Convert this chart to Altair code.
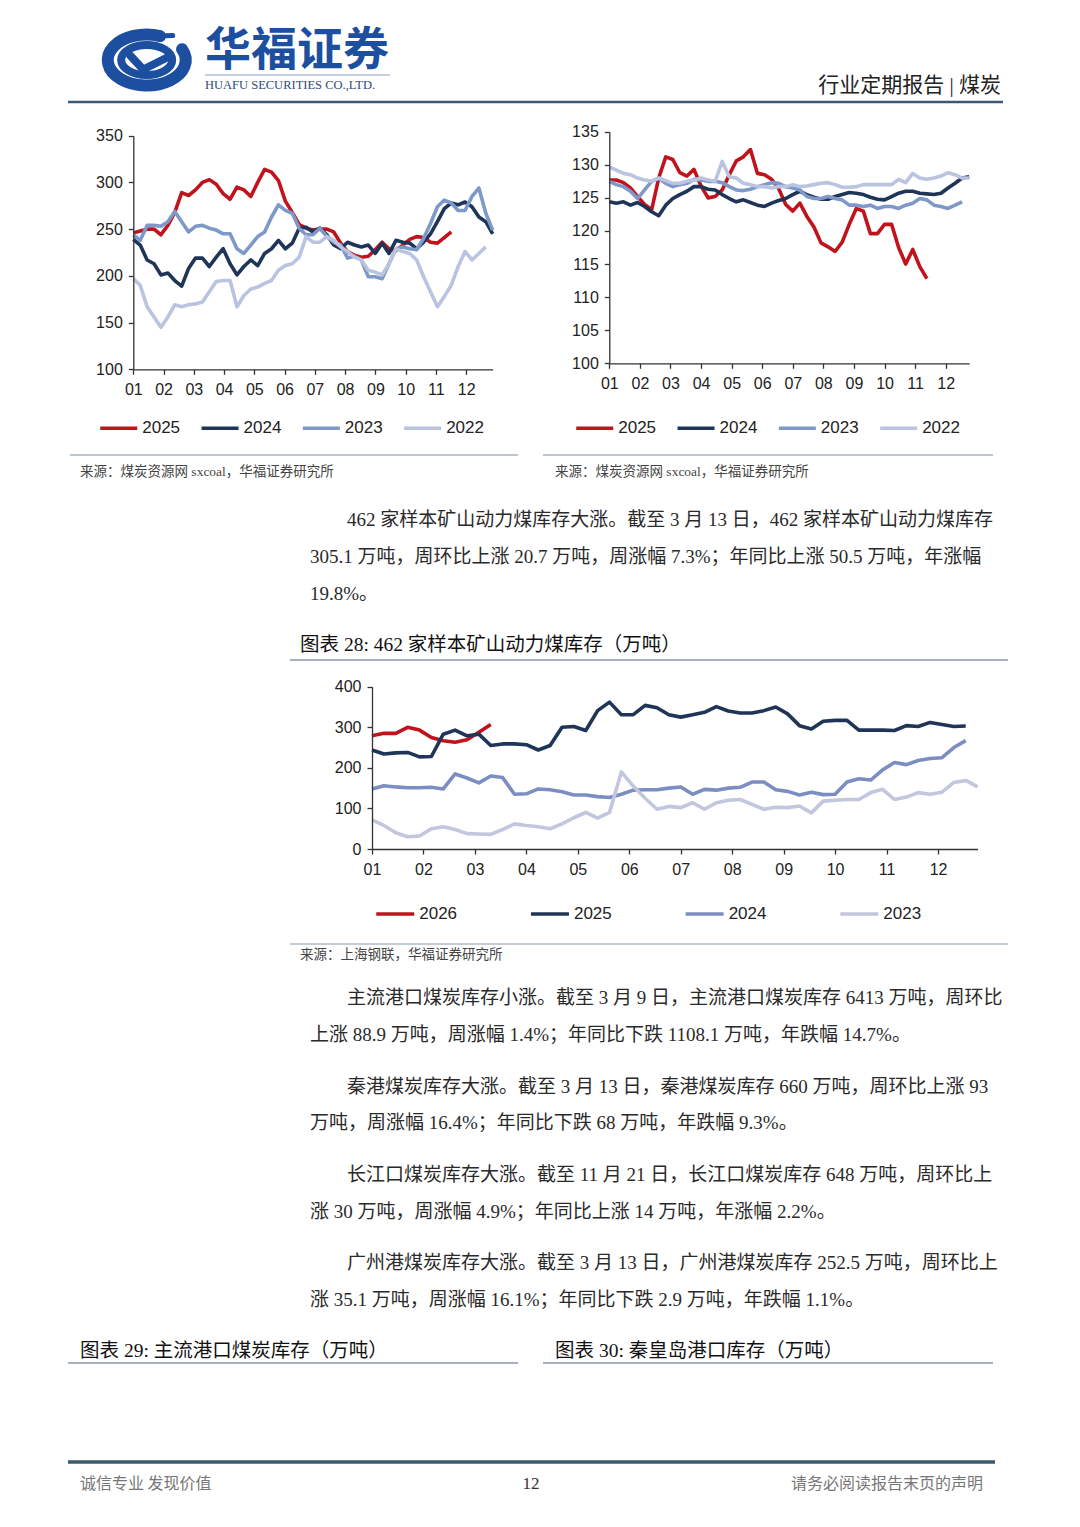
import json
import pandas as pd
import altair as alt

W, H = 1064, 1511
M = 8  # page margin

MONTH_LABELS = ["01", "02", "03", "04", "05", "06", "07", "08", "09", "10", "11", "12"]

# ---------------- Chart 1 (left top) ----------------
C1_NAMES = ["2025", "2024", "2023", "2022"]
C1_COLORS = ["#c0131b", "#1f3557", "#7d98c9", "#bac3df"]
C1_YTICKS = [100, 150, 200, 250, 300, 350]
C1_2025 = [246, 248, 250, 250, 244, 254, 268, 289, 286, 292, 300, 303, 298, 288, 282, 295, 292, 285, 300,
           314, 311, 302, 280, 268, 255, 251, 249, 250, 250, 247, 235, 226, 222, 220, 221, 228, 236, 229,
           227, 233, 239, 242, 241, 236, 235, 241, 247]
C1_2024 = [239, 233, 217, 213, 201, 203, 195, 189, 208, 219, 219, 210, 220, 229, 213, 201, 210, 217, 211,
           224, 229, 238, 229, 235, 251, 252, 247, 251, 244, 233, 229, 236, 233, 231, 233, 224, 235, 224,
           238, 236, 235, 229, 236, 245, 258, 272, 278, 276, 279, 274, 263, 258, 245]
C1_2023 = [244, 238, 254, 254, 253, 258, 269, 258, 247, 253, 254, 251, 249, 245, 245, 229, 224, 233, 242,
           247, 263, 276, 270, 267, 251, 244, 244, 251, 242, 236, 233, 219, 221, 217, 199, 199, 197, 213,
           229, 231, 229, 228, 240, 256, 274, 281, 278, 270, 270, 285, 294, 267, 249]
C1_2022 = [197, 190, 167, 156, 145, 156, 169, 167, 169, 170, 172, 183, 194, 195, 195, 167, 179, 186, 188,
           192, 195, 206, 211, 213, 220, 242, 236, 236, 242, 238, 231, 226, 220, 217, 206, 204, 201, 213,
           229, 226, 224, 217, 199, 183, 167, 178, 190, 210, 226, 217, 224, 231]

# ---------------- Chart 2 (right top) ----------------
C2_NAMES = ["2025", "2024", "2023", "2022"]
C2_COLORS = ["#c0131b", "#1f3557", "#7d98c9", "#bac3df"]
C2_YTICKS = [100, 105, 110, 115, 120, 125, 130, 135]
C2_2025 = [127.7, 127.7, 127.3, 126.5, 125.2, 124.0, 123.2, 128.0, 131.2, 130.8, 128.8, 128.3, 129.3,
           126.8, 125.0, 125.2, 126.2, 128.5, 130.6, 131.2, 132.3, 128.7, 128.5, 127.8, 126.4, 124.0,
           123.0, 124.2, 122.2, 120.6, 118.2, 117.6, 116.9, 118.3, 121.0, 123.4, 123.0, 119.6, 119.6,
           121.0, 121.0, 117.5, 115.0, 117.2, 114.6, 112.8]
C2_2024 = [124.4, 124.2, 124.4, 123.9, 124.3, 123.7, 122.9, 122.3, 123.9, 124.9, 125.5, 126.0, 126.7,
           126.7, 126.3, 126.2, 125.5, 124.9, 124.4, 124.7, 124.3, 123.9, 123.7, 124.2, 124.6, 124.9,
           125.5, 126.0, 125.5, 125.1, 124.8, 124.8, 125.2, 125.5, 125.8, 125.7, 125.5, 125.1, 124.8,
           124.7, 125.2, 125.7, 126.0, 126.0, 125.7, 125.6, 125.5, 125.7, 126.5, 127.2, 128.0, 128.2]
C2_2023 = [127.5, 127.0, 126.7, 126.0, 124.9, 126.2, 127.5, 128.0, 127.2, 126.7, 127.0, 127.2, 127.8,
           127.7, 127.5, 127.5, 127.3, 126.7, 126.2, 126.1, 126.3, 126.7, 127.0, 127.3, 127.2, 126.7,
           126.5, 126.2, 125.2, 124.9, 124.9, 125.2, 124.9, 124.7, 123.9, 123.9, 123.7, 123.9, 123.4,
           123.7, 123.7, 123.4, 123.9, 124.2, 124.9, 124.7, 123.9, 123.7, 123.4, 123.9, 124.4]
C2_2022 = [129.7, 129.2, 128.7, 128.5, 128.0, 127.7, 127.5, 128.0, 127.6, 127.2, 127.2, 127.5, 127.7,
           128.0, 127.7, 127.5, 130.5, 128.2, 128.0, 127.2, 127.0, 126.7, 126.7, 126.5, 126.7, 126.7,
           127.0, 126.7, 126.8, 127.0, 127.2, 127.3, 127.0, 126.6, 126.6, 126.7, 127.0, 127.0, 127.0,
           127.0, 127.0, 127.8, 127.3, 128.7, 128.0, 127.8, 128.0, 128.3, 128.8, 128.5, 128.0, 128.0]

# ---------------- Chart 3 (middle) ----------------
C3_NAMES = ["2026", "2025", "2024", "2023"]
C3_COLORS = ["#c0131b", "#1f3557", "#7b8ec2", "#c2c6de"]
C3_YTICKS = [0, 100, 200, 300, 400]
C3_2026 = [279, 285, 285, 300, 293, 275, 267, 263, 269, 288, 307]
C3_2025 = [244, 234, 237, 238, 227, 228, 283, 293, 279, 283, 255, 259, 259, 257, 244, 255, 300, 302, 292,
           341, 362, 331, 331, 354, 348, 331, 325, 331, 337, 351, 340, 335, 335, 341, 350, 333, 304, 296,
           315, 317, 317, 293, 293, 293, 292, 304, 302, 312, 307, 302, 303]
C3_2024 = [148, 156, 153, 151, 151, 152, 148, 185, 175, 163, 180, 176, 135, 136, 148, 146, 141, 133, 133,
           129, 127, 135, 145, 146, 146, 150, 153, 135, 147, 145, 150, 152, 165, 165, 146, 142, 133, 140,
           134, 135, 165, 173, 170, 195, 213, 208, 218, 223, 225, 250, 267]
C3_2023 = [72, 58, 40, 30, 32, 50, 55, 48, 38, 37, 36, 48, 62, 58, 55, 50, 62, 77, 90, 76, 90, 190, 155,
           125, 98, 105, 102, 114, 98, 114, 120, 122, 110, 98, 103, 102, 106, 89, 118, 120, 122, 122, 139,
           147, 122, 128, 139, 135, 140, 164, 169, 153]

# ---------------- Text content ----------------
PARA_LINES = [
    (347, 520, "462 家样本矿山动力煤库存大涨。截至 3 月 13 日，462 家样本矿山动力煤库存"),
    (310, 557, "305.1 万吨，周环比上涨 20.7 万吨，周涨幅 7.3%；年同比上涨 50.5 万吨，年涨幅"),
    (310, 594, "19.8%。"),
    (347, 998, "主流港口煤炭库存小涨。截至 3 月 9 日，主流港口煤炭库存 6413 万吨，周环比"),
    (310, 1035, "上涨 88.9 万吨，周涨幅 1.4%；年同比下跌 1108.1 万吨，年跌幅 14.7%。"),
    (347, 1087, "秦港煤炭库存大涨。截至 3 月 13 日，秦港煤炭库存 660 万吨，周环比上涨 93"),
    (310, 1123, "万吨，周涨幅 16.4%；年同比下跌 68 万吨，年跌幅 9.3%。"),
    (347, 1175, "长江口煤炭库存大涨。截至 11 月 21 日，长江口煤炭库存 648 万吨，周环比上"),
    (310, 1212, "涨 30 万吨，周涨幅 4.9%；年同比上涨 14 万吨，年涨幅 2.2%。"),
    (347, 1263, "广州港煤炭库存大涨。截至 3 月 13 日，广州港煤炭库存 252.5 万吨，周环比上"),
    (310, 1300, "涨 35.1 万吨，周涨幅 16.1%；年同比下跌 2.9 万吨，年跌幅 1.1%。"),
]
FIG_TITLES = [
    (300, 645, "图表 28:  462 家样本矿山动力煤库存（万吨）"),
    (80, 1351, "图表 29:  主流港口煤炭库存（万吨）"),
    (555, 1351, "图表 30:  秦皇岛港口库存（万吨）"),
]
SOURCES = [
    (80, 472, "来源：煤炭资源网 sxcoal，华福证券研究所"),
    (555, 472, "来源：煤炭资源网 sxcoal，华福证券研究所"),
    (300, 955, "来源：上海钢联，华福证券研究所"),
]

AXIS_FONT = "Liberation Sans, Arial, sans-serif"
BODY_FONT = "Liberation Serif, Noto Sans CJK SC"
CJK_FONT = "Noto Sans CJK SC"
LOGO_BLUE = "#1d4fa0"

BASE = pd.DataFrame({"k": [0]})


def long_df(names, series):
    rows = []
    for n, s in zip(names, series):
        for i, v in enumerate(s):
            rows.append({"week": i, "value": v, "series": n})
    return pd.DataFrame(rows)


def line_chart(df, names, colors, xdom, xrng, ydom, yrng, yticks, wpm, legx, legy, colpad, symsize):
    month_vals = [i * wpm for i in range(12)]
    label_expr = f"{json.dumps(MONTH_LABELS)}[round(datum.value / {wpm})]"
    common = dict(domainColor="#333", domainWidth=1.3, tickColor="#333", tickWidth=1.3, tickSize=5,
                  labelFont=AXIS_FONT, labelFontSize=16, labelColor="#222", grid=False, title=None,
                  labelFlush=False, labelOverlap=False, zindex=1)
    return alt.Chart(df).mark_line(strokeWidth=3.6, strokeJoin="round").encode(
        x=alt.X("week:Q",
                scale=alt.Scale(domain=xdom, range=xrng, nice=False, zero=False),
                axis=alt.Axis(orient="bottom", values=month_vals, labelExpr=label_expr,
                              offset=yrng[0] - H, labelPadding=7, **common)),
        y=alt.Y("value:Q",
                scale=alt.Scale(domain=ydom, range=yrng, nice=False, zero=False),
                axis=alt.Axis(orient="left", values=yticks, offset=-xrng[0], labelPadding=6, **common)),
        color=alt.Color("series:N", scale=alt.Scale(domain=names, range=colors),
                        legend=alt.Legend(orient="none", legendX=legx, legendY=legy, direction="horizontal",
                                          title=None, symbolType="stroke", symbolStrokeWidth=3.6,
                                          symbolSize=symsize, labelFontSize=17, labelFont=AXIS_FONT,
                                          labelColor="#222", labelOffset=3, columnPadding=colpad,
                                          padding=0, labelLimit=0, zindex=1)),
    )


def txt(s, x, y, size, color="#222", font=BODY_FONT, align="left", weight="normal"):
    return alt.Chart(BASE).mark_text(text=s, align=align, baseline="middle", fontSize=size, font=font,
                                     color=color, fontWeight=weight).encode(
        x=alt.value(x - M), y=alt.value(y - M))


def hrule(x1, x2, y, color, width):
    return alt.Chart(BASE).mark_rule(color=color, strokeWidth=width).encode(
        x=alt.value(x1 - M), x2=alt.value(x2 - M), y=alt.value(y - M))


def logo_part(path, **kw):
    return alt.Chart(BASE).mark_point(shape=path, size=10000, opacity=1, filled=False,
                                      strokeCap="round", strokeJoin="round", **kw).encode(
        x=alt.value(146.7 - M), y=alt.value(60 - M))


layers = []

# white page background (covers the faint frame at the canvas edge)
layers.append(alt.Chart(BASE).mark_rect(color="white", stroke="white", strokeWidth=4).encode(
    x=alt.value(-4), x2=alt.value(W + 4), y=alt.value(-4), y2=alt.value(H + 4)))

# logo: outer open ring, inner ring, chevron
layers.append(logo_part("M0.267,-0.479 A0.78,0.51 0 1,0 0.707,-0.216", stroke=LOGO_BLUE, strokeWidth=12))
layers.append(logo_part("M0.52,-0.49 L0.267,-0.479", stroke=LOGO_BLUE, strokeWidth=5))
layers.append(logo_part("M-0.51,0 A0.51,0.3 0 1,1 0.51,0 A0.51,0.3 0 1,1 -0.51,0 Z",
                        stroke=LOGO_BLUE, strokeWidth=8))
layers.append(logo_part("M-0.33,-0.09 L-0.07,0.19 L0.43,-0.06", stroke=LOGO_BLUE, strokeWidth=8))

# header
layers.append(txt("华福证券", 205, 51, 46, color=LOGO_BLUE, font=CJK_FONT, weight="bold"))
layers.append(hrule(205, 390, 75, "#8aa0c0", 1))
layers.append(txt("HUAFU SECURITIES CO.,LTD.", 205, 85, 12.5, color="#2f4a78", font="Liberation Serif"))
layers.append(txt("行业定期报告 | 煤炭", 1001, 86, 21, color="#222", align="right"))
layers.append(hrule(68, 1003, 102, "#3d5872", 2.5))

# charts
df1 = long_df(C1_NAMES, [C1_2025, C1_2024, C1_2023, C1_2022])
layers.append(line_chart(df1, C1_NAMES, C1_COLORS, [0, 52], [125.3, 484.7], [100, 350], [361.3, 127.7],
                         C1_YTICKS, 4.378, 90.25, 399.5, 13.3, 1369))
df2 = long_df(C2_NAMES, [C2_2025, C2_2024, C2_2023, C2_2022])
layers.append(line_chart(df2, C2_NAMES, C2_COLORS, [0, 51], [601.3, 961.2], [100, 135], [355.3, 123.7],
                         C2_YTICKS, 52 / 12, 566.25, 399.5, 13.3, 1369))
df3 = long_df(C3_NAMES, [C3_2026, C3_2025, C3_2024, C3_2023])
layers.append(line_chart(df3, C3_NAMES, C3_COLORS, [0, 51], [364, 969.6], [0, 400], [841, 678.7],
                         C3_YTICKS, 52 / 12, 366.25, 885, 65.7, 1444))

# separators and sources
layers.append(hrule(70, 518, 455, "#7d8c9b", 1))
layers.append(hrule(543, 993, 455, "#7d8c9b", 1))
layers.append(hrule(290, 1008, 660, "#8797a8", 1.5))
layers.append(hrule(290, 1008, 944, "#8797a8", 1.2))
layers.append(hrule(68, 518, 1363, "#8797a8", 1.5))
layers.append(hrule(543, 993, 1363, "#8797a8", 1.5))
layers.append(hrule(68, 995, 1462, "#3b5a6b", 3.5))

for x, y, s in SOURCES:
    layers.append(txt(s, x, y, 13.5, color="#444"))
for x, y, s in FIG_TITLES:
    layers.append(txt(s, x, y, 19.5, color="#111"))
for x, y, s in PARA_LINES:
    layers.append(txt(s, x, y, 19, color="#2a2a2a"))

# footer
layers.append(txt("诚信专业  发现价值", 80, 1484, 16, color="#777", font=CJK_FONT))
layers.append(txt("12", 531, 1484, 17, color="#333", font="Liberation Serif", align="center"))
layers.append(txt("请务必阅读报告末页的声明", 983, 1484, 16, color="#777", font=CJK_FONT, align="right"))

chart = alt.layer(*layers).resolve_scale(
    x="independent", y="independent", color="independent"
).properties(
    width=W, height=H, padding=0, autosize=alt.AutoSizeParams(type="none")
).configure_view(strokeWidth=0, stroke="transparent").configure(background="white")

chart.save("out.html", embed_options={"renderer": "svg", "actions": False})
